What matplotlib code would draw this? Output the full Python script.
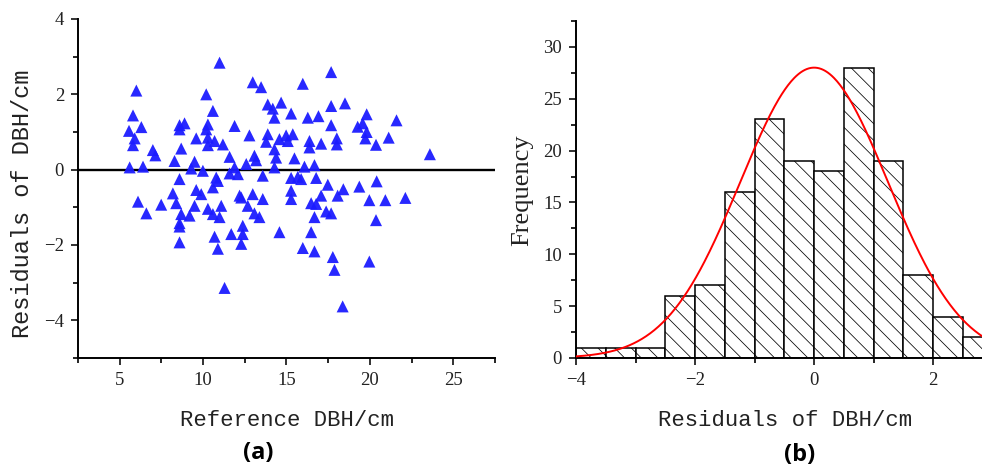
import numpy as np
import matplotlib
matplotlib.use("Agg")
import matplotlib.pyplot as plt
from matplotlib.ticker import MultipleLocator

# ---------------- data: panel (a) ----------------
ref_dbh = [
    10.99, 6.00, 10.19, 12.98, 13.48, 5.80, 10.59, 13.88, 14.18, 14.68,
    14.28, 5.56, 6.30, 5.90, 5.80, 8.59, 8.89, 8.59, 10.29, 10.19,
    11.89, 12.78, 9.59, 10.29, 10.69, 10.29, 11.19, 13.88, 13.78, 14.58,
    14.28, 6.99, 7.14, 8.69, 8.29, 9.49, 11.59, 13.08, 13.18, 14.38,
    5.60, 6.40, 9.29, 9.99, 11.89, 12.59, 14.28,
    17.68, 15.98, 15.28, 17.68, 18.51, 16.28, 16.92, 17.68, 19.81, 19.27,
    19.57, 19.81, 21.60, 14.98, 15.38, 15.08, 16.38, 16.38, 17.08, 18.02,
    18.02, 19.73, 20.37, 21.13, 23.60, 15.48, 16.08, 16.68,
    8.59, 10.79, 10.89, 11.59, 12.09, 13.58, 8.19, 6.10, 7.49, 8.39,
    6.60, 9.59, 9.89, 10.59, 9.49, 8.69, 9.19, 8.59, 8.59, 8.59,
    10.29, 10.59, 11.09, 10.99, 12.19, 12.29, 12.98, 13.58, 12.68, 13.08,
    13.38, 12.38, 12.38, 11.69, 10.69, 12.29, 10.89, 11.29, 14.58,
    15.28, 15.68, 15.88, 16.78, 15.28, 15.28, 17.48, 17.08, 18.07, 18.41,
    19.37, 20.41, 16.48, 16.78, 17.38, 17.68, 16.68, 19.97, 20.93, 22.13,
    20.37, 16.48, 15.98, 16.68, 17.78, 17.88, 19.97, 18.37,
]
residuals = [
    2.84, 2.10, 2.00, 2.32, 2.19, 1.44, 1.56, 1.73, 1.62, 1.78,
    1.38, 1.03, 1.13, 0.83, 0.65, 1.18, 1.23, 1.07, 1.20, 1.07,
    1.16, 0.91, 0.83, 0.85, 0.76, 0.65, 0.67, 0.94, 0.74, 0.81,
    0.54, 0.52, 0.38, 0.56, 0.23, 0.21, 0.34, 0.37, 0.25, 0.32,
    0.06, 0.08, 0.03, -0.03, 0.06, 0.15, 0.06,
    2.59, 2.28, 1.49, 1.69, 1.76, 1.38, 1.42, 1.18, 1.47, 1.14,
    1.23, 1.00, 1.31, 0.91, 0.94, 0.76, 0.76, 0.59, 0.69, 0.83,
    0.67, 0.83, 0.66, 0.85, 0.41, 0.30, 0.08, 0.12,
    -0.25, -0.21, -0.30, -0.10, -0.12, -0.16, -0.63, -0.85, -0.93, -0.89,
    -1.16, -0.54, -0.65, -0.47, -0.96, -1.18, -1.22, -1.42, -1.51, -1.93,
    -1.04, -1.18, -0.96, -1.26, -0.69, -0.74, -0.65, -0.78, -0.96, -1.16,
    -1.26, -1.49, -1.71, -1.71, -1.78, -1.97, -2.10, -3.14, -1.66,
    -0.22, -0.19, -0.25, -0.22, -0.56, -0.78, -0.40, -0.69, -0.69, -0.52,
    -0.45, -0.31, -0.89, -0.91, -1.11, -1.16, -1.26, -0.81, -0.81, -0.75,
    -1.34, -1.66, -2.08, -2.17, -2.32, -2.66, -2.44, -3.63,
]

# ---------------- data: panel (b) ----------------
bin_edges = [-4.0, -3.5, -3.0, -2.5, -2.0, -1.5, -1.0, -0.5,
             0.0, 0.5, 1.0, 1.5, 2.0, 2.5, 3.0]
frequency = [1, 1, 1, 6, 7, 16, 23, 19, 18, 28, 19, 8, 4, 2]
fit_mu = 0.0
fit_sigma = 1.24
fit_peak = 28.0

plt.rcParams['hatch.linewidth'] = 0.55
tick_font = 'Liberation Serif'
label_font = 'Liberation Mono'

fig = plt.figure(figsize=(9.82, 4.69), dpi=100)

def style_axes(ax):
    for s in ('top', 'right'):
        ax.spines[s].set_visible(False)
    for s in ('left', 'bottom'):
        ax.spines[s].set_linewidth(1.4)
    ax.tick_params(which='major', direction='out', length=5, width=1.3,
                   labelsize=13.5, pad=5, colors='#222222')
    ax.tick_params(which='minor', direction='out', length=3.5, width=1.2)
    for lab in ax.get_xticklabels() + ax.get_yticklabels():
        lab.set_fontfamily(tick_font)

# ---- panel (a) ----
ax1 = fig.add_axes([0.0794, 0.2367, 0.4246, 0.7228])
ax1.scatter(ref_dbh, residuals, marker='^', s=75, color='#1c1cff',
            edgecolors='none', alpha=0.95, zorder=3, clip_on=False)
ax1.axhline(0, color='black', lw=1.7, zorder=2)
ax1.set_xlim(2.5, 27.5)
ax1.set_ylim(-5, 4)
ax1.set_xticks([5, 10, 15, 20, 25])
ax1.xaxis.set_minor_locator(MultipleLocator(2.5))
ax1.set_yticks([-4, -2, 0, 2, 4])
ax1.yaxis.set_minor_locator(MultipleLocator(1))
style_axes(ax1)

fig.text(287 / 982, 1 - 420 / 469, 'Reference DBH/cm', ha='center', va='center',
         fontsize=16, family=label_font, color='#222222')
fig.text(23 / 982, 1 - 204 / 469, 'Residuals of DBH/cm', ha='center', va='center',
         rotation=90, fontsize=17, family=label_font, color='#222222')
fig.text(258 / 982, 1 - 453 / 469, '(a)', ha='center', va='center',
         fontsize=17, fontweight='bold', family='Open Sans', color='black')

# ---- panel (b) ----
ax2 = fig.add_axes([576 / 982, 0.2367, 406 / 982, 0.7186])
edges = np.array(bin_edges)
ax2.bar(edges[:-1], frequency, width=np.diff(edges), align='edge',
        facecolor='white', edgecolor='black', hatch='\\\\', linewidth=1.1, zorder=2)
xs = np.linspace(-4, 3, 400)
ax2.plot(xs, fit_peak * np.exp(-0.5 * ((xs - fit_mu) / fit_sigma) ** 2),
         color='red', lw=1.4, zorder=3)
ax2.set_xlim(-4, 2.82)
ax2.set_ylim(0, 32.5)
ax2.set_xticks([-4, -2, 0, 2])
ax2.xaxis.set_minor_locator(MultipleLocator(1))
ax2.set_yticks([0, 5, 10, 15, 20, 25, 30])
ax2.yaxis.set_minor_locator(MultipleLocator(2.5))
style_axes(ax2)

fig.text(785 / 982, 1 - 420 / 469, 'Residuals of DBH/cm', ha='center', va='center',
         fontsize=16, family=label_font, color='#222222')
fig.text(522 / 982, 1 - 190 / 469, 'Frequency', ha='center', va='center',
         rotation=90, fontsize=19, family='Liberation Serif', color='#222222')
fig.text(800 / 982, 1 - 455 / 469, '(b)', ha='center', va='center',
         fontsize=17, fontweight='bold', family='Open Sans', color='black')

fig.savefig('out.png', dpi=100)
